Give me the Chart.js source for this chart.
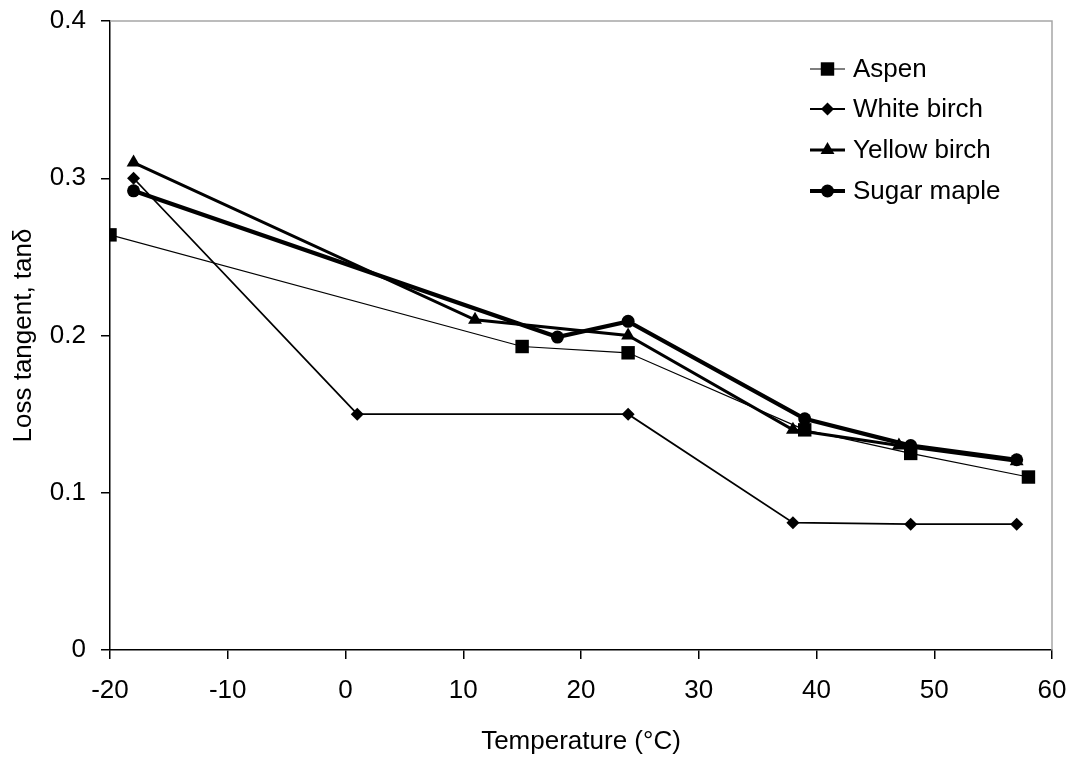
<!DOCTYPE html>
<html>
<head>
<meta charset="utf-8">
<script src="https://cdn.jsdelivr.net/npm/chart.js@4.4.0/dist/chart.umd.min.js"></script>
<style>
  html, body { margin: 0; padding: 0; background: #fff; }
  #wrap { width: 1076px; height: 759px; }
</style>
</head>
<body>
<div id="wrap"><canvas id="lossChart" width="1076" height="759"></canvas></div>
<script>
// values
const seriesNames = ['Aspen', 'White birch', 'Yellow birch', 'Sugar maple'];

const aspenTemp = [-20, 15, 24, 39, 48, 58];
const aspenTan = [0.264, 0.193, 0.189, 0.140, 0.125, 0.110];

const whiteBirchTemp = [-18, 1, 24, 38, 48, 57];
const whiteBirchTan = [0.300, 0.150, 0.150, 0.081, 0.080, 0.080];

const yellowBirchTemp = [-18, 11, 24, 38, 47, 57];
const yellowBirchTan = [0.310, 0.210, 0.200, 0.140, 0.130, 0.120];

const sugarMapleTemp = [-18, 18, 24, 39, 48, 57];
const sugarMapleTan = [0.292, 0.199, 0.209, 0.147, 0.130, 0.121];

const xTicks = [-20, -10, 0, 10, 20, 30, 40, 50, 60];
const yTicks = [0, 0.1, 0.2, 0.3, 0.4];

const FONT = 'Arial, "Liberation Sans", sans-serif';

const toPoints = (xs, ys) => xs.map((x, i) => ({ x: x, y: ys[i] }));

const makeSet = (label, xs, ys, width, style, radius) => ({
    label: label,
    data: toPoints(xs, ys),
    borderColor: '#000',
    backgroundColor: '#000',
    borderWidth: width,
    pointStyle: style,
    pointRadius: radius,
    pointHoverRadius: radius,
    pointBorderWidth: 0,
    pointBackgroundColor: '#000',
    tension: 0,
    fill: false
});

const datasets = [
    makeSet(seriesNames[0], aspenTemp, aspenTan, 1.2, 'rect', 9.5),
    makeSet(seriesNames[1], whiteBirchTemp, whiteBirchTan, 1.8, 'rectRot', 6.5),
    makeSet(seriesNames[2], yellowBirchTemp, yellowBirchTan, 3, 'triangle', 8),
    makeSet(seriesNames[3], sugarMapleTemp, sugarMapleTan, 4.2, 'circle', 6.5)
];

// grey frame on top and right, like the original plot box
const frame = {
    id: 'frame',
    afterDraw(chart) {
        const { ctx, chartArea: a } = chart;
        ctx.save();
        ctx.strokeStyle = '#a6a6a6';
        ctx.lineWidth = 1.5;
        ctx.beginPath();
        ctx.moveTo(a.left, a.top);
        ctx.lineTo(a.right, a.top);
        ctx.lineTo(a.right, a.bottom);
        ctx.stroke();
        ctx.restore();
    }
};

// legend inside the plot, sample line with marker
const insideLegend = {
    id: 'insideLegend',
    afterDraw(chart) {
        const ctx = chart.ctx;
        const rows = [69, 109, 150, 191];
        const x0 = 810, x1 = 845, tx = 853;
        ctx.save();
        chart.data.datasets.forEach((ds, i) => {
            const y = rows[i];
            ctx.strokeStyle = '#000';
            ctx.lineWidth = ds.borderWidth;
            ctx.beginPath();
            ctx.moveTo(x0, y);
            ctx.lineTo(x1, y);
            ctx.stroke();
            ctx.fillStyle = '#000';
            Chart.helpers.drawPoint(ctx, {
                pointStyle: ds.pointStyle,
                radius: ds.pointRadius,
                rotation: 0,
                borderWidth: 0
            }, (x0 + x1) / 2, y);
            ctx.fillStyle = '#000';
            ctx.font = '26px ' + FONT;
            ctx.textAlign = 'left';
            ctx.textBaseline = 'middle';
            ctx.fillText(ds.label, tx, y + 1);
        });
        ctx.restore();
    }
};

const ctx = document.getElementById('lossChart').getContext('2d');
const lossChart = new Chart(ctx, {
    type: 'line',
    data: { datasets: datasets },
    options: {
        responsive: false,
        animation: false,
        layout: { padding: { top: 21, right: 24, left: 0, bottom: 0 } },
        plugins: {
            legend: { display: false },
            tooltip: { enabled: false }
        },
        scales: {
            x: {
                type: 'linear',
                min: -20,
                max: 60,
                afterBuildTicks: (s) => { s.ticks = xTicks.map(v => ({ value: v })); },
                afterFit: (s) => { s.height = 109; s.paddingLeft = 0; s.paddingRight = 0; },
                grid: { display: true, drawOnChartArea: false, drawTicks: true, tickLength: 9, color: '#000', lineWidth: 1.5 },
                border: { display: true, color: '#000', width: 1.5 },
                ticks: { color: '#000', font: { size: 26, family: FONT }, padding: 16, maxRotation: 0 },
                title: { display: true, text: 'Temperature (°C)', color: '#000', font: { size: 26, family: FONT }, padding: { top: 0, bottom: 2 } }
            },
            y: {
                type: 'linear',
                min: 0,
                max: 0.4,
                afterBuildTicks: (s) => { s.ticks = yTicks.map(v => ({ value: v })); },
                afterFit: (s) => { s.width = 110; s.paddingTop = 0; s.paddingBottom = 0; },
                grid: { display: true, drawOnChartArea: false, drawTicks: true, tickLength: 9, color: '#000', lineWidth: 1.5 },
                border: { display: true, color: '#000', width: 1.5 },
                ticks: { color: '#000', font: { size: 26, family: FONT }, padding: 15, callback: (v) => String(v) },
                title: { display: true, text: 'Loss tangent, tanδ', color: '#000', font: { size: 26, family: FONT }, padding: { top: 8, bottom: 0 } }
            }
        }
    },
    plugins: [frame, insideLegend]
});
</script>
</body>
</html>
